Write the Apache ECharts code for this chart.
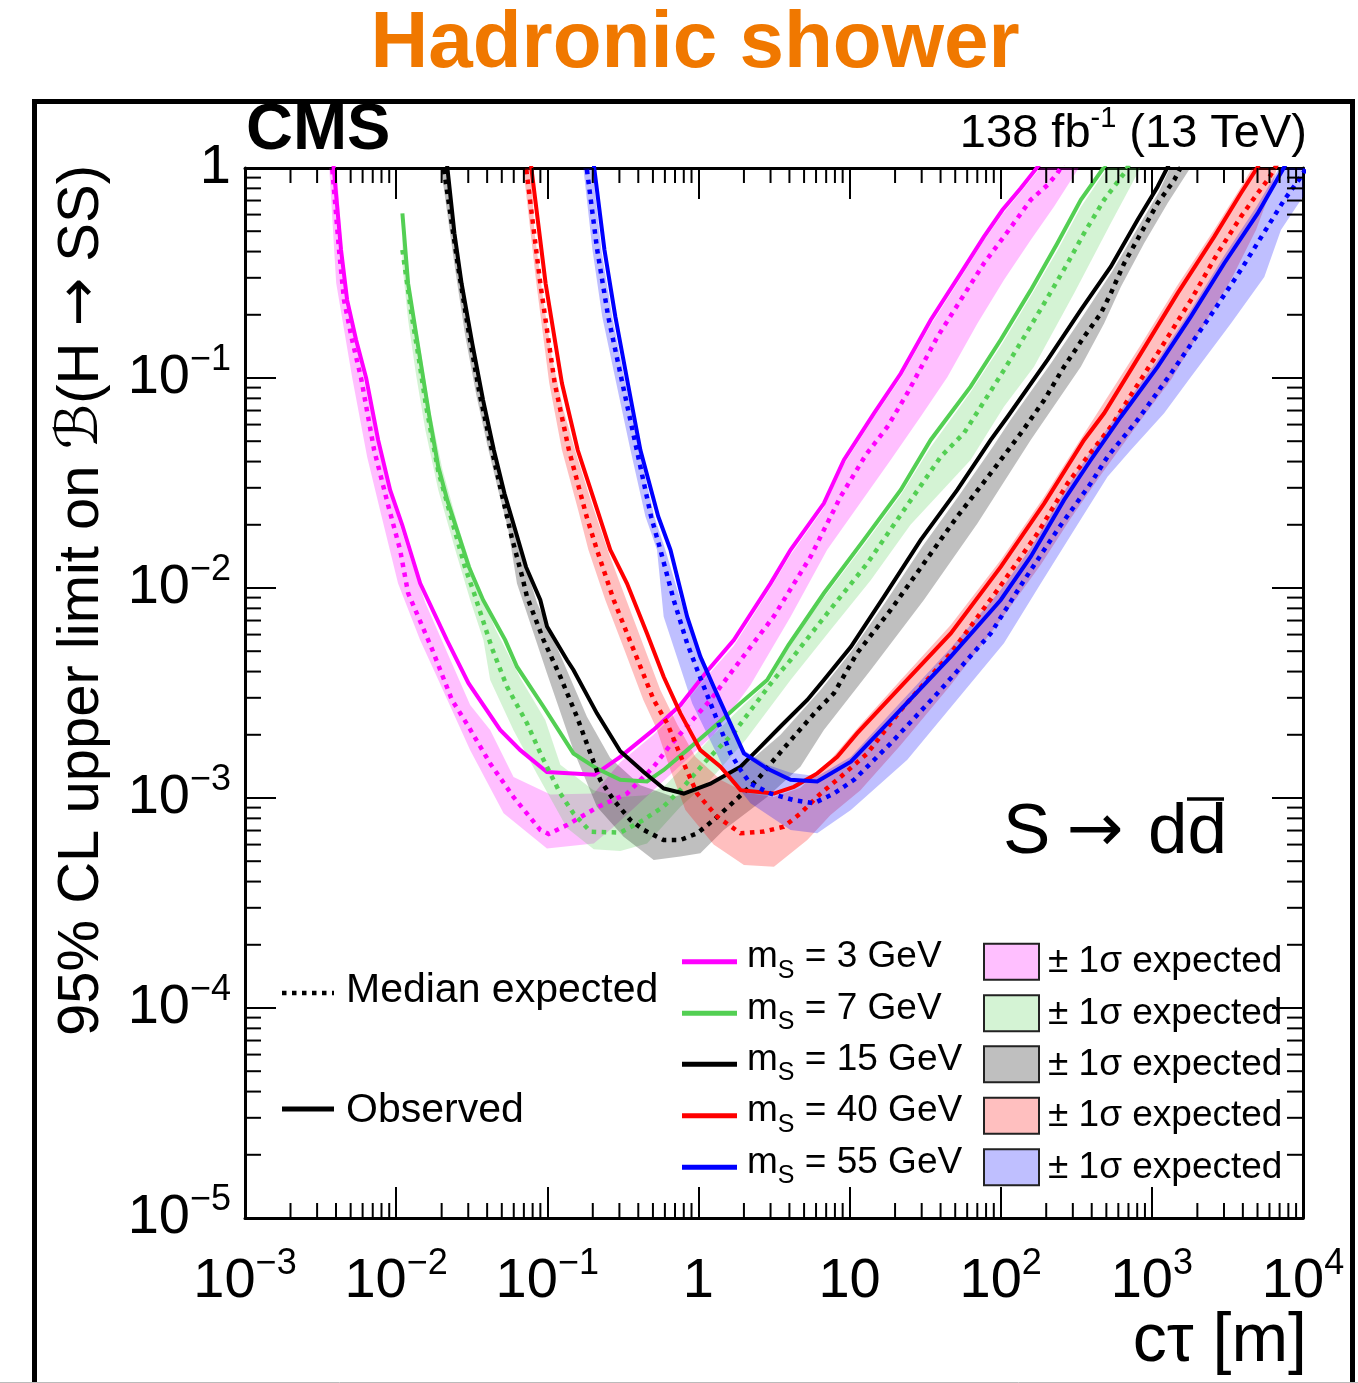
<!DOCTYPE html>
<html><head><meta charset="utf-8">
<script src="https://cdn.jsdelivr.net/npm/echarts@6/dist/echarts.min.js"></script>
<style>html,body{margin:0;padding:0;background:#fff}#c{width:1358px;height:1383px}</style>
</head><body><div id="c"></div>
<script>
const FONT = '"Liberation Sans", Arial, Helvetica, sans-serif';
const ARROW_FONT = '"DejaVu Sans", sans-serif';

// axis ranges and tick label exponents
const X_MIN = 1e-3, X_MAX = 1e4, Y_MIN = 1e-5, Y_MAX = 1;
const xTickExponents = [-3, -2, -1, 0, 1, 2, 3, 4];
const yTickExponents = [-5, -4, -3, -2, -1, 0];

// legend labels
const massLabels = ['3', '7', '15', '40', '55'];
const lineColors = ['#ff00ff', '#53cf53', '#000000', '#ff0000', '#0000ff'];
const bandColors = ['rgba(255,0,255,0.25)', 'rgba(83,207,83,0.25)', 'rgba(0,0,0,0.25)', 'rgba(255,0,0,0.25)', 'rgba(0,0,255,0.25)'];

// ---- m_S = 3 GeV ----  [c tau (m), limit]
const obs3 = [[0.0037,1.22],[0.00386,1.01],[0.00432,0.407],[0.00474,0.235],[0.00543,0.152],[0.00633,0.100],[0.0076,0.0507],[0.00912,0.0293],[0.01096,0.0200],[0.01442,0.01052],[0.02167,0.00565],[0.0301,0.00352],[0.0488,0.00211],[0.0663,0.00169],[0.0995,0.00133],[0.205,0.00129],[0.304,0.00157],[0.504,0.00211],[0.760,0.00277],[1.112,0.00393],[1.714,0.00565],[3.0,0.01052],[4.07,0.0152],[6.76,0.0253],[9.17,0.0407],[14.5,0.0679],[21.8,0.105],[34.4,0.189],[54.3,0.315],[77.5,0.471],[102.6,0.631],[135.6,0.800],[175,1.01],[214,1.22]];
const exp3 = [[0.00366,1.22],[0.00377,1.01],[0.00419,0.407],[0.00452,0.235],[0.00511,0.152],[0.00586,0.100],[0.00715,0.0454],[0.00885,0.0248],[0.01062,0.0152],[0.0120,0.00946],[0.0172,0.00516],[0.0234,0.00293],[0.0301,0.00219],[0.0419,0.00146],[0.0598,0.00101],[0.0899,0.000705],[0.102,0.000674],[0.135,0.000743],[0.213,0.000901],[0.337,0.00105],[0.506,0.00141],[0.653,0.00179],[1.20,0.00293],[1.90,0.00454],[3.14,0.00730],[5.52,0.0141],[8.71,0.0272],[12.8,0.0430],[17.8,0.0586],[24.1,0.0846],[38.1,0.157],[54.3,0.235],[77.5,0.352],[111,0.497],[158,0.705],[204,0.830],[237,0.944],[269,1.09],[300,1.25]];
const hi3 = [[0.00401,1.09],[0.00459,0.262],[0.00595,0.107],[0.00726,0.0565],[0.00912,0.028],[0.0120,0.0150],[0.0156,0.0085],[0.0214,0.00507],[0.0309,0.00277],[0.0419,0.00211],[0.0598,0.00126],[0.105,0.00104],[0.203,0.00105],[0.304,0.00148],[0.504,0.00200],[0.760,0.00266],[1.112,0.00373],[1.71,0.00530],[3.0,0.0100],[4.07,0.0144],[6.73,0.0240],[9.12,0.0385],[14.4,0.0645],[21.8,0.100],[34.4,0.179],[54.3,0.299],[77.1,0.449],[103,0.604],[135.6,0.769],[176,0.968],[214,1.15],[230,1.3]];
const lo3 = [[0.00355,1.22],[0.00401,0.283],[0.00511,0.101],[0.00643,0.0421],[0.00796,0.0223],[0.0103,0.0105],[0.0144,0.00565],[0.0186,0.00378],[0.0309,0.00169],[0.0514,0.000845],[0.0995,0.000575],[0.203,0.000608],[0.274,0.000728],[0.504,0.00109],[1.26,0.00200],[2.21,0.00345],[4.07,0.00730],[7.11,0.0152],[18.7,0.0407],[29.5,0.0654],[44.4,0.101],[70.1,0.182],[105,0.293],[158,0.454],[225,0.654],[322,0.978],[366,1.15]];

// ---- m_S = 7 GeV ----
const obs7 = [[0.0110,0.608],[0.0120,0.282],[0.0141,0.136],[0.0166,0.0654],[0.0190,0.0378],[0.0218,0.0262],[0.0257,0.0182],[0.0303,0.0126],[0.0376,0.00877],[0.0527,0.00565],[0.0630,0.00422],[0.0944,0.00272],[0.149,0.00163],[0.213,0.00138],[0.304,0.00122],[0.457,0.00120],[0.589,0.00136],[0.841,0.00169],[1.20,0.00211],[1.90,0.00283],[2.85,0.00365],[3.94,0.00535],[6.76,0.00944],[12.4,0.0169],[21.8,0.0293],[34.4,0.0507],[63.2,0.0909],[100,0.152],[158,0.262],[237,0.438],[339,0.705],[483,1.01],[578,1.24]];
const exp7 = [[0.0110,0.407],[0.01265,0.20],[0.0141,0.125],[0.0157,0.075],[0.0190,0.036],[0.0243,0.019],[0.0286,0.0125],[0.0328,0.00944],[0.0431,0.00516],[0.0541,0.00339],[0.0734,0.00227],[0.0923,0.00157],[0.122,0.00105],[0.149,0.000845],[0.193,0.000691],[0.304,0.000684],[0.432,0.000785],[0.586,0.000909],[0.796,0.00113],[1.14,0.00152],[1.71,0.00204],[2.31,0.00272],[3.14,0.00365],[4.07,0.00454],[7.11,0.00757],[13.1,0.0131],[22.9,0.0235],[40.1,0.0422],[57.1,0.0546],[73.8,0.0730],[105,0.109],[143,0.157],[194,0.227],[277,0.352],[356,0.489],[483,0.705],[656,0.944],[748,1.12]];
const hi7 = [[0.0110,0.480],[0.01238,0.26],[0.0144,0.14],[0.0168,0.07],[0.0202,0.037],[0.0258,0.0195],[0.0334,0.0110],[0.0453,0.00640],[0.0663,0.00373],[0.0970,0.00235],[0.122,0.00144],[0.202,0.00109],[0.304,0.00101],[0.453,0.00103],[0.604,0.00115],[0.885,0.00152],[1.26,0.00200],[1.90,0.00268],[3.0,0.00365],[4.07,0.00553],[6.73,0.00896],[12.4,0.0160],[21.8,0.0277],[34.4,0.0469],[63.2,0.0858],[100,0.142],[158,0.245],[238,0.407],[339,0.652],[496,0.978],[578,1.22]];
const lo7 = [[0.0110,0.345],[0.0120,0.189],[0.01356,0.103],[0.0156,0.0565],[0.0190,0.0293],[0.0246,0.0152],[0.0309,0.00877],[0.0378,0.00565],[0.0419,0.00365],[0.0598,0.0021],[0.0855,0.0013],[0.135,0.00072],[0.203,0.00057],[0.304,0.00056],[0.457,0.000608],[0.760,0.000909],[1.20,0.00122],[2.05,0.00189],[4.07,0.00365],[7.48,0.00631],[13.8,0.0109],[25.3,0.0200],[63.2,0.0407],[105,0.0730],[166,0.113],[306,0.253],[535,0.545],[846,1.01],[955,1.22]];

// ---- m_S = 15 GeV ----
const obs15 = [[0.0211,1.22],[0.0218,1.01],[0.0243,0.489],[0.0271,0.282],[0.0319,0.146],[0.0376,0.0785],[0.0443,0.0454],[0.0521,0.0282],[0.0614,0.0189],[0.0723,0.0126],[0.0899,0.00877],[0.0996,0.00655],[0.135,0.00454],[0.149,0.00407],[0.213,0.00253],[0.304,0.00167],[0.434,0.00133],[0.589,0.00111],[0.800,0.00105],[1.20,0.00117],[1.90,0.00141],[2.45,0.00169],[3.49,0.00219],[5.25,0.00293],[6.76,0.00365],[10.2,0.00525],[16.9,0.00909],[29.5,0.0169],[51.6,0.0293],[85.9,0.0507],[111,0.0654],[204,0.122],[339,0.211],[535,0.339],[804,0.565],[1091,0.815],[1271,1.01],[1442,1.22]];
const exp15 = [[0.0200,1.22],[0.0206,1.01],[0.0230,0.586],[0.0257,0.339],[0.0303,0.163],[0.0356,0.0846],[0.0420,0.0489],[0.0493,0.0293],[0.0581,0.0175],[0.0683,0.0113],[0.0734,0.00909],[0.0945,0.00565],[0.122,0.00378],[0.157,0.00244],[0.193,0.00163],[0.224,0.00122],[0.275,0.000977],[0.355,0.000785],[0.434,0.000705],[0.589,0.000631],[0.760,0.000631],[0.980,0.000679],[1.26,0.000785],[1.71,0.000959],[2.45,0.00122],[3.16,0.00152],[4.28,0.00196],[6.11,0.00262],[7.87,0.00315],[11.2,0.00489],[18.7,0.00786],[31.0,0.0131],[51.6,0.0219],[85.9,0.0352],[136,0.0546],[194,0.0785],[262,0.113],[356,0.157],[459,0.203],[535,0.253],[656,0.352],[846,0.489],[1091,0.679],[1406,0.877],[1556,1.01],[1706,1.22]];
const hi15 = [[0.0214,1.22],[0.0235,0.565],[0.0261,0.327],[0.0309,0.160],[0.0366,0.0830],[0.0432,0.0480],[0.0511,0.0293],[0.0604,0.0189],[0.0715,0.0129],[0.0855,0.0085],[0.122,0.0048],[0.183,0.00244],[0.261,0.00155],[0.413,0.00115],[0.686,0.00101],[1.26,0.00117],[2.10,0.00146],[3.49,0.00200],[6.43,0.00327],[10.2,0.00496],[17.3,0.00857],[30.4,0.0158],[52.7,0.0274],[88.5,0.0469],[116,0.0631],[214,0.117],[349,0.197],[543,0.320],[820,0.530],[1112,0.769],[1297,0.978],[1466,1.19]];
const lo15 = [[0.0196,1.22],[0.0198,1.0],[0.0221,0.565],[0.0246,0.327],[0.0286,0.160],[0.0339,0.0830],[0.0401,0.0480],[0.0473,0.0293],[0.0552,0.0189],[0.0630,0.0105],[0.0995,0.00393],[0.149,0.00169],[0.213,0.000909],[0.320,0.000654],[0.506,0.000507],[0.760,0.000526],[1.03,0.000546],[1.47,0.000705],[2.85,0.00101],[4.73,0.00141],[6.76,0.00211],[13.8,0.00407],[31.0,0.00877],[70.1,0.0203],[158,0.0507],[339,0.113],[483,0.182],[624,0.272],[889,0.438],[1271,0.679],[1811,1.01],[1986,1.19]];

// ---- m_S = 40 GeV ----
const obs40 = [[0.0760,1.22],[0.0783,1.01],[0.0975,0.282],[0.125,0.0944],[0.159,0.0454],[0.204,0.0262],[0.261,0.0152],[0.337,0.0105],[0.457,0.00608],[0.589,0.00378],[0.760,0.00253],[1.03,0.00169],[1.40,0.00141],[1.90,0.00109],[3.16,0.00105],[4.28,0.00113],[6.11,0.00131],[8.29,0.00157],[11.2,0.00203],[21.8,0.00339],[46.7,0.00608],[100,0.0126],[194,0.0253],[356,0.0507],[483,0.0679],[846,0.131],[1479,0.253],[2588,0.471],[3882,0.758],[5012,1.01],[5689,1.19]];
const exp40 = [[0.0699,1.22],[0.0723,1.01],[0.0899,0.282],[0.112,0.0944],[0.139,0.0454],[0.182,0.0219],[0.213,0.0152],[0.275,0.00877],[0.373,0.00507],[0.506,0.00293],[0.621,0.00227],[0.800,0.00146],[0.980,0.00105],[1.33,0.000815],[1.90,0.000679],[2.71,0.000692],[3.67,0.000730],[4.73,0.000845],[6.43,0.00105],[8.71,0.00126],[13.1,0.00163],[21.8,0.00262],[46.7,0.00489],[95.1,0.00977],[175,0.0182],[277,0.0315],[375,0.0422],[535,0.0586],[764,0.0877],[1091,0.131],[1811,0.235],[2723,0.393],[3882,0.586],[5012,0.758],[5834,0.877],[6622,1.02],[7379,1.19]];
const hi40 = [[0.0771,1.22],[0.0820,0.507],[0.0941,0.235],[0.108,0.122],[0.128,0.0705],[0.156,0.0430],[0.199,0.0248],[0.254,0.0148],[0.324,0.00927],[0.432,0.00535],[0.560,0.00327],[0.726,0.00223],[0.955,0.00157],[1.40,0.00122],[2.05,0.00106],[3.14,0.00101],[4.73,0.00112],[7.48,0.00152],[11.8,0.00223],[21.8,0.00365],[46.7,0.00667],[100,0.0136],[193,0.0271],[355,0.0541],[846,0.144],[1466,0.274],[2576,0.507],[3882,0.812],[4887,1.07]];
const lo40 = [[0.0683,1.22],[0.0693,1.0],[0.0846,0.283],[0.103,0.0946],[0.125,0.0454],[0.160,0.0235],[0.187,0.0152],[0.242,0.00877],[0.324,0.00507],[0.432,0.00293],[0.527,0.00215],[0.653,0.00136],[0.820,0.000877],[1.26,0.00060],[2.0,0.000480],[3.16,0.000471],[5.25,0.000631],[7.48,0.000830],[11.8,0.00109],[21.8,0.00179],[46.7,0.00345],[100,0.00705],[184,0.0129],[291,0.0215],[459,0.0345],[846,0.0631],[1337,0.0978],[2113,0.169],[3334,0.293],[4887,0.507],[6138,0.786],[6934,1.09]];

// ---- m_S = 55 GeV ----
const obs55 = [[0.199,1.22],[0.204,1.01],[0.239,0.407],[0.282,0.196],[0.341,0.0944],[0.413,0.0454],[0.542,0.0219],[0.653,0.0152],[0.842,0.00730],[1.03,0.00471],[1.26,0.00339],[1.55,0.00244],[2.0,0.00163],[2.85,0.00138],[4.07,0.00122],[6.11,0.00120],[10.2,0.00149],[18.7,0.00235],[46.7,0.00471],[100,0.00877],[158,0.0141],[262,0.0262],[394,0.0407],[624,0.0654],[1091,0.113],[1811,0.196],[3013,0.352],[5012,0.608],[7516,1.01],[8590,1.19]];
const exp55 = [[0.177,1.22],[0.182,1.01],[0.214,0.407],[0.253,0.196],[0.314,0.0944],[0.391,0.0454],[0.486,0.0219],[0.560,0.0152],[0.686,0.00877],[0.842,0.00545],[1.03,0.00373],[1.33,0.00235],[1.63,0.00163],[1.90,0.00136],[2.21,0.00117],[3.0,0.00105],[4.28,0.000977],[5.81,0.000944],[7.87,0.00105],[10.7,0.00122],[18.7,0.00182],[38.1,0.00315],[85.9,0.00608],[143,0.0109],[237,0.0189],[394,0.0315],[509,0.0422],[804,0.0631],[1337,0.105],[2339,0.189],[3882,0.327],[5834,0.525],[7516,0.705],[9705,0.909],[11300,1.09]];
const hi55 = [[0.193,1.22],[0.228,0.407],[0.269,0.196],[0.329,0.0944],[0.404,0.0454],[0.511,0.0219],[0.604,0.0152],[0.760,0.00877],[0.927,0.00565],[1.16,0.00365],[1.51,0.00248],[2.0,0.00169],[2.85,0.00144],[4.07,0.00132],[6.11,0.00127],[10.2,0.00157],[18.7,0.00254],[46.7,0.00518],[100,0.00977],[158,0.0155],[261,0.0286],[394,0.0445],[624,0.0705],[1096,0.122],[1811,0.211],[3000,0.381],[4955,0.659],[7482,1.09]];
const lo55 = [[0.168,1.22],[0.199,0.407],[0.231,0.196],[0.286,0.0944],[0.355,0.0454],[0.446,0.0219],[0.532,0.0152],[0.589,0.00730],[0.910,0.00282],[1.5,0.00135],[2.21,0.000944],[4.07,0.000705],[6.11,0.000679],[10.2,0.000877],[24.1,0.00152],[105,0.00545],[184,0.0105],[306,0.0189],[509,0.0339],[726,0.0454],[1205,0.0679],[1811,0.101],[3334,0.182],[5546,0.303],[7145,0.507],[10000,0.730],[12970,0.978]];

const masses = [
  {obs: obs3, exp: exp3, hi: hi3, lo: lo3},
  {obs: obs7, exp: exp7, hi: hi7, lo: lo7},
  {obs: obs15, exp: exp15, hi: hi15, lo: lo15},
  {obs: obs40, exp: exp40, hi: hi40, lo: lo40},
  {obs: obs55, exp: exp55, hi: hi55, lo: lo55}
];

const DOT = [4.5, 5.5];

function bandSeries(hi, lo, color) {
  const poly = hi.concat(lo.slice().reverse());
  return {
    type: 'custom', coordinateSystem: 'cartesian2d', xAxisIndex: 0, yAxisIndex: 0,
    clip: true, silent: true, animation: false,
    data: poly,
    encode: {x: 0, y: 1},
    renderItem: function (params, api) {
      if (params.dataIndex !== 0) return null;
      const pts = poly.map(function (p) { return api.coord(p); });
      return {type: 'polygon', shape: {points: pts}, style: {fill: color, stroke: null}};
    }
  };
}
function lineSeries(data, color, dashed) {
  return {
    type: 'line', xAxisIndex: 0, yAxisIndex: 0, data: data, symbol: 'none', showSymbol: false,
    clip: true, silent: true, animation: false, smooth: false,
    lineStyle: {color: color, width: dashed ? 4.5 : 4, type: dashed ? DOT : 'solid', cap: 'butt', join: 'miter'}
  };
}

const minorX = [], minorY = [];
for (let e = -3; e < 4; e++) for (let m = 2; m <= 9; m++) minorX.push(m * Math.pow(10, e));
for (let e = -5; e < 0; e++) for (let m = 2; m <= 9; m++) minorY.push(m * Math.pow(10, e));

function tickLine(x1, y1, x2, y2) {
  return {type: 'line', shape: {x1: x1, y1: y1, x2: x2, y2: y2}, style: {stroke: '#000', lineWidth: 2}};
}
const minorTicks = {
  type: 'custom', coordinateSystem: 'cartesian2d', xAxisIndex: 0, yAxisIndex: 0,
  silent: true, clip: false, animation: false, z: 10,
  data: [[1, 0.01]],
  renderItem: function (params, api) {
    const yb = api.coord([1, Y_MIN])[1], yt = api.coord([1, Y_MAX])[1];
    const xl = api.coord([X_MIN, 1])[0], xr = api.coord([X_MAX, 1])[0];
    const ch = [];
    minorX.forEach(function (v) {
      const x = api.coord([v, 1])[0];
      ch.push(tickLine(x, yb, x, yb - 15));
      ch.push(tickLine(x, yt, x, yt + 15));
    });
    minorY.forEach(function (v) {
      const y = api.coord([1, v])[1];
      ch.push(tickLine(xl, y, xl + 16, y));
      ch.push(tickLine(xr, y, xr - 16, y));
    });
    return {type: 'group', children: ch};
  }
};

const series = [];
masses.forEach(function (m, i) {
  series.push(bandSeries(m.hi, m.lo, bandColors[i]));
  series.push(lineSeries(m.exp, lineColors[i], true));
  series.push(lineSeries(m.obs, lineColors[i], false));
});
series.push(minorTicks);

function makeRich(extraTop) {
  return {
    b: {fontSize: 56, lineHeight: 56, fontFamily: FONT, color: '#000', verticalAlign: 'bottom', padding: [extraTop, 0, 0, 0]},
    s: {fontSize: 36, lineHeight: 36, fontFamily: FONT, color: '#000', verticalAlign: 'bottom', padding: [extraTop, 0, 28, 0]},
    p: {fontSize: 56, lineHeight: 56, fontFamily: FONT, color: '#000', verticalAlign: 'bottom', padding: [8 + extraTop, 0, 0, 0]}
  };
}
function expLabel(v, list) {
  const e = Math.round(Math.log10(v));
  if (list.indexOf(e) < 0) return '';
  if (e === 0) return '{p|1}';
  if (e === 1) return '{p|10}';
  return '{b|10}{s|' + (e < 0 ? '\u2212' + (-e) : e) + '}';
}
const axisCommon = {
  type: 'log', logBase: 10,
  axisLine: {show: true, onZero: false, lineStyle: {color: '#000', width: 3}},
  axisTick: {show: true, inside: true, length: 31, lineStyle: {color: '#000', width: 2}},
  splitLine: {show: false}, minorTick: {show: false}, minorSplitLine: {show: false}
};

function txt(x, y, text, size, opts) {
  opts = opts || {};
  return {type: 'text', x: x, y: y, z: 100, rotation: opts.rotation || 0, style: {
    text: text, fontSize: size, fontWeight: opts.bold ? 'bold' : 'normal', fontFamily: opts.family || FONT,
    fill: opts.color || '#000', align: opts.align || 'left', textAlign: opts.align || 'left',
    verticalAlign: 'middle', textVerticalAlign: 'middle', rich: opts.rich}};
}

const legendRows = [961.7, 1013.3, 1064.3, 1115.7, 1167.3];
const graphics = [];
// outer frame
graphics.push({type: 'rect', shape: {x: 34.5, y: 101.5, width: 1318, height: 1400}, style: {fill: null, stroke: '#000', lineWidth: 5}, z: 100});
graphics.push({type: 'line', shape: {x1: 0, y1: 1382.5, x2: 1358, y2: 1382.5}, style: {stroke: '#bbbbbb', lineWidth: 1}, z: 100});
// title
graphics.push(txt(695, 45, 'Hadronic shower', 80, {bold: true, align: 'center', color: '#f07800'}));
// CMS
graphics.push(txt(246, 131, 'CMS', 65, {bold: true}));
// lumi
graphics.push(txt(1307, 134, '{a|138 fb}{s|-1}{a| (13 TeV)}', 47, {align: 'right', rich: {
  a: {fontSize: 47, lineHeight: 47, fontFamily: FONT, fill: '#000', verticalAlign: 'bottom'},
  s: {fontSize: 29, lineHeight: 29, fontFamily: FONT, fill: '#000', verticalAlign: 'bottom', padding: [0, 0, 24, 0]}}}));
// y title
graphics.push(txt(82, 165, '{a|95% CL upper limit on }{i|\u212C}{a|(H }{r|\u2192}{a| SS)}', 58, {align: 'right', rotation: Math.PI / 2, rich: {
  a: {fontSize: 58, fontFamily: FONT, fill: '#000'},
  r: {fontSize: 58, fontFamily: ARROW_FONT, fill: '#000'},
  i: {fontSize: 58, fontFamily: '"DejaVu Serif", "DejaVu Sans", serif', fontStyle: 'italic', fill: '#000'}}}));
// x title
graphics.push(txt(1307, 1342, 'c\u03C4 [m]', 68, {align: 'right'}));
// S -> d dbar
graphics.push(txt(1003, 833, 'S', 71));
graphics.push(txt(1095, 833, '\u2192', 68, {align: 'center', family: ARROW_FONT}));
graphics.push(txt(1148, 833, 'dd', 71));
graphics.push({type: 'line', z: 100, shape: {x1: 1187, y1: 799, x2: 1224, y2: 799}, style: {stroke: '#000', lineWidth: 3.5}});
// legend: left block
graphics.push({type: 'line', z: 100, shape: {x1: 282, y1: 993, x2: 334, y2: 993}, style: {stroke: '#000', lineWidth: 4.5, lineDash: DOT}});
graphics.push(txt(346, 991, 'Median expected', 41));
graphics.push({type: 'line', z: 100, shape: {x1: 282, y1: 1109, x2: 334, y2: 1109}, style: {stroke: '#000', lineWidth: 5}});
graphics.push(txt(346, 1111, 'Observed', 41));
// legend: right block
legendRows.forEach(function (y, i) {
  graphics.push({type: 'line', z: 100, shape: {x1: 682, y1: y, x2: 737, y2: y}, style: {stroke: lineColors[i], lineWidth: 5}});
  graphics.push(txt(747, y + 3, '{a|m}{b|S}{a| = ' + massLabels[i] + ' GeV}', 37, {rich: {
    a: {fontSize: 37, lineHeight: 37, fontFamily: FONT, fill: '#000', verticalAlign: 'bottom', padding: [0, 0, 8, 0]},
    b: {fontSize: 25, lineHeight: 25, fontFamily: FONT, fill: '#000', verticalAlign: 'bottom'}}}));
  graphics.push({type: 'rect', z: 100, shape: {x: 984, y: y - 18, width: 55, height: 36}, style: {fill: bandColors[i], stroke: '#222', lineWidth: 2}});
  graphics.push(txt(1048, y, '\u00B1 1\u03C3 expected', 37));
});

const chart = echarts.init(document.getElementById('c'), null, {renderer: 'canvas'});
chart.setOption({
  animation: false,
  backgroundColor: '#ffffff',
  grid: {left: 245, right: 55, top: 168, bottom: 165, containLabel: false, outerBoundsMode: 'none'},
  xAxis: [
    Object.assign({}, axisCommon, {position: 'bottom', min: X_MIN, max: X_MAX,
      axisLabel: {show: true, margin: 36, showMinLabel: true, showMaxLabel: true, formatter: function (v) { return expLabel(v, xTickExponents); }, rich: makeRich(0)}}),
    Object.assign({}, axisCommon, {position: 'top', min: X_MIN, max: X_MAX, axisLabel: {show: false}})
  ],
  yAxis: [
    Object.assign({}, axisCommon, {position: 'left', min: Y_MIN, max: Y_MAX,
      axisLabel: {show: true, margin: 14, showMinLabel: true, showMaxLabel: true, formatter: function (v) { return expLabel(v, yTickExponents); }, rich: makeRich(12)}}),
    Object.assign({}, axisCommon, {position: 'right', min: Y_MIN, max: Y_MAX, axisLabel: {show: false}})
  ],
  series: series,
  graphic: {elements: graphics}
});
</script>
</body></html>
